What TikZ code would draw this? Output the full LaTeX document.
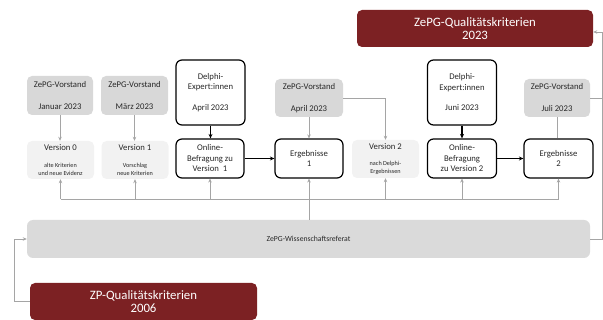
\documentclass[tikz,border=0pt]{standalone}
\usepackage{fontspec}
\setmainfont{Carlito}
\usetikzlibrary{arrows.meta}
\definecolor{vgray}{RGB}{216,216,216}
\definecolor{lgray}{RGB}{242,242,242}
\definecolor{wgray}{RGB}{218,218,218}
\definecolor{dred}{RGB}{124,33,35}
\definecolor{cgray}{RGB}{165,165,165}
\definecolor{tgray}{RGB}{40,40,40}
\tikzset{
  base/.style={inner sep=0pt, align=center, text=tgray},
  vst/.style={base, fill=vgray, rounded corners=5pt, minimum height=39pt, font=\fontsize{8.7}{11}\selectfont},
  ver/.style={base, fill=lgray, rounded corners=5pt, minimum height=38pt, font=\fontsize{6.2}{8}\selectfont},
  wbox/.style={base, draw=black, line width=1.2pt, fill=white, rounded corners=6pt, font=\fontsize{8.7}{10.5}\selectfont},
  rbox/.style={base, fill=dred, text=white, rounded corners=5pt, font=\fontsize{12.8}{12.5}\selectfont},
  garr/.style={draw=cgray, line width=0.9pt, -{Stealth[length=4pt,width=3.5pt]}},
  gline/.style={draw=cgray, line width=0.9pt},
  barr/.style={draw=black, line width=1.1pt, -{Stealth[length=4.5pt,width=4pt]}}
}
\begin{document}
\begin{tikzpicture}[x=1pt,y=-1pt]
\useasboundingbox (0,0) rectangle (603,320);
% red boxes
\node[rbox, minimum width=236pt, minimum height=37pt] (q23) at (475,28.5) {ZePG-Qualitätskriterien\\2023};
\node[rbox, minimum width=227pt, minimum height=37pt] (q06) at (143.5,301.5) {ZP-Qualitätskriterien\\2006};
% top row
\node[vst, minimum width=66pt] (vj) at (60,95.5) {ZePG-Vorstand\\[11pt]Januar 2023};
\node[vst, minimum width=67pt] (vm) at (134.5,95.5) {ZePG-Vorstand\\[11pt]März 2023};
\node[wbox, minimum width=69pt, minimum height=65pt] (da) at (210.5,92.5) {Delphi-\\Expert:innen\\[10pt]April 2023};
\node[vst, minimum width=68pt, minimum height=38pt] (va) at (309,98) {ZePG-Vorstand\\[11pt]April 2023};
\node[wbox, minimum width=69pt, minimum height=65pt] (dj) at (462,92.5) {Delphi-\\Expert:innen\\[10pt]Juni 2023};
\node[vst, minimum width=66pt, minimum height=38pt] (vl) at (557,98) {ZePG-Vorstand\\[11pt]Juli 2023};
% middle row
\node[ver, minimum width=67pt] (v0) at (60.5,160) {{\fontsize{8.7}{8}\selectfont Version 0}\\[9pt]alte Kriterien\\und neue Evidenz};
\node[ver, minimum width=67pt] (v1) at (135,160) {{\fontsize{8.7}{8}\selectfont Version 1}\\[9pt]Vorschlag\\neue Kriterien};
\node[wbox, minimum width=68pt, minimum height=39pt] (o1) at (210,158.5) {Online-\\Befragung zu\\Version\ \ 1};
\node[wbox, minimum width=68pt, minimum height=39pt] (e1) at (309,158.5) {Ergebnisse\\1};
\node[ver, minimum width=67pt] (v2) at (385.5,159) {{\fontsize{8.7}{8}\selectfont Version 2}\\[8pt]nach Delphi-\\Ergebnissen};
\node[wbox, minimum width=69pt, minimum height=39pt] (o2) at (462,158.5) {Online-\\Befragung\\zu Version 2};
\node[wbox, minimum width=69pt, minimum height=39pt] (e2) at (558.5,158.5) {Ergebnisse\\2};
% Wissenschaftsreferat
\node[base, fill=wgray, rounded corners=6pt, minimum width=563pt, minimum height=38pt, font=\fontsize{7.7}{9}\selectfont] (ws) at (308.5,239) {ZePG-Wissenschaftsreferat};
% coordinates
\coordinate (busL) at (60.5,199);
\coordinate (busR) at (558.5,199);
\coordinate (re) at (602,0);
\coordinate (le) at (14,0);
% top-down connectors
\draw[garr] (vj) -- (v0.north -| vj);
\draw[garr] (vm) -- (v1.north -| vm);
\draw[barr] (da) -- (o1.north -| da);
\draw[garr] (va) -- (e1.north -| va);
\draw[garr] (va.east) -| (v2.north);
\draw[barr] (dj) -- (o2.north -| dj);
\draw[gline] (vl) -- (e2.north -| vl);
\draw[gline] (vl.east) -- (vl.east -| re);
% horizontal flow
\draw[barr] (o1) -- (e1);
\draw[barr] (o2) -- (e2);
% bus
\draw[gline] (busL) -- (busR);
\draw[gline] (ws.north -| e1) -- (e1.south |- busL);
\foreach \n in {v0,v1,o1,e1,v2,o2,e2}{
  \draw[garr] (\n.south |- busL) -- (\n.south);
}
% side loops
\draw[garr] (q06.west) -| (le |- ws.west) -- (ws.west);
\draw[garr] (ws.east) -| (re |- 0,32) -- (q23.east |- 0,32);
\end{tikzpicture}
\end{document}
